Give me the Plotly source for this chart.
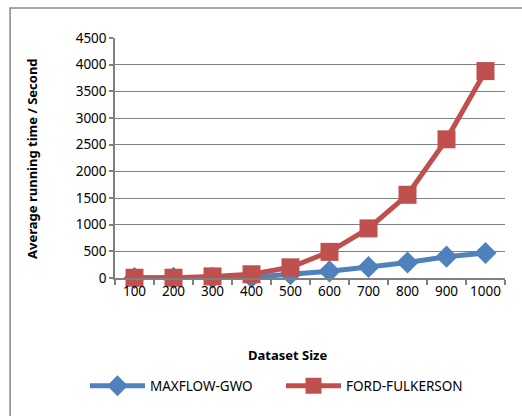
import plotly.graph_objects as go

categories = ["100", "200", "300", "400", "500", "600", "700", "800", "900", "1000"]
maxflow_gwo = [1, 2, 5, 15, 70, 125, 205, 290, 400, 470]
ford_fulkerson = [5, 5, 30, 70, 200, 490, 930, 1560, 2600, 3880]
y_ticks = [0, 500, 1000, 1500, 2000, 2500, 3000, 3500, 4000, 4500]

BLUE = "#4F81BD"
RED = "#C0504D"
GRID = "#808080"
FONT = "Noto Sans"

fig = go.Figure()
fig.add_trace(go.Scatter(
    x=categories, y=maxflow_gwo, name="MAXFLOW-GWO", mode="lines+markers",
    line=dict(color=BLUE, width=5),
    marker=dict(symbol="diamond", size=17, color=BLUE),
    cliponaxis=False,
))
fig.add_trace(go.Scatter(
    x=categories, y=ford_fulkerson, name="FORD-FULKERSON", mode="lines+markers",
    line=dict(color=RED, width=5),
    marker=dict(symbol="square", size=18, color=RED),
    cliponaxis=False,
))

fig.update_layout(
    width=522, height=416,
    margin=dict(l=115, r=17, t=38, b=138, autoexpand=False),
    paper_bgcolor="white", plot_bgcolor="white",
    font=dict(family=FONT, size=13, color="black"),
    showlegend=True,
    legend=dict(orientation="h", x=-0.077, xanchor="left", y=-0.45, yanchor="middle",
                font=dict(size=13.5), itemwidth=55, entrywidth=126, entrywidthmode="pixels",
                traceorder="normal"),
    xaxis=dict(
        type="category", range=[-0.5, 9.5], showgrid=False, automargin=False,
        showline=True, linecolor=GRID, linewidth=1.5, tickangle=0,
        ticks="outside", tickson="boundaries", ticklen=5, tickcolor=GRID, tickwidth=1.5,
        tickfont=dict(size=13.5),
    ),
    yaxis=dict(
        range=[0, 4500], tickmode="array", tickvals=y_ticks, showgrid=True, gridcolor=GRID, gridwidth=1,
        showline=True, linecolor=GRID, linewidth=1.5, zeroline=False, automargin=False,
        ticks="outside", ticklen=4, tickcolor=GRID, tickwidth=1.5,
        tickfont=dict(size=13.5),
    ),
    shapes=[dict(type="rect", xref="paper", yref="paper",
                 x0=-0.269, x1=1.2, y0=-0.7, y1=1.125,
                 line=dict(color="#888888", width=1.5), fillcolor="rgba(0,0,0,0)", layer="above")],
    annotations=[
        dict(text="<b>Average running time / Second</b>", xref="paper", yref="paper",
             x=-0.213, y=0.5, xanchor="center", yanchor="middle", textangle=-90,
             showarrow=False, font=dict(size=13)),
        dict(text="<b>Dataset Size</b>", xref="paper", yref="paper",
             x=0.444, y=-0.32, xanchor="center", yanchor="middle",
             showarrow=False, font=dict(size=13)),
    ],
)

fig.write_html("out.html", config={"displayModeBar": False},
               post_script="document.body.style.margin='0';document.body.style.padding='0';")
